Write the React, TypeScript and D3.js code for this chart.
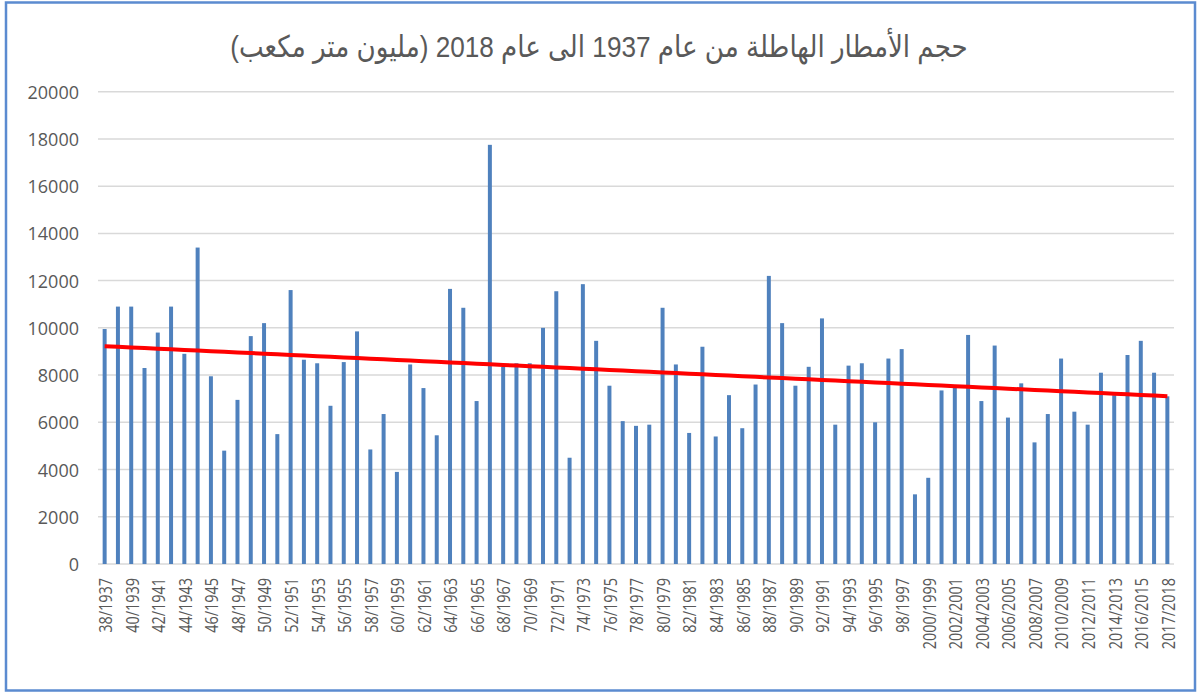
import React, { useLayoutEffect, useRef, useState } from "react";
import * as d3 from "d3";

// hydrological years, one bar each
const years = [
  "38/1937", "39/1938", "40/1939", "41/1940", "42/1941", "43/1942", "44/1943", "45/1944", "46/1945", "47/1946",
  "48/1947", "49/1948", "50/1949", "51/1950", "52/1951", "53/1952", "54/1953", "55/1954", "56/1955", "57/1956",
  "58/1957", "59/1958", "60/1959", "61/1960", "62/1961", "63/1962", "64/1963", "65/1964", "66/1965", "67/1966",
  "68/1967", "69/1968", "70/1969", "71/1970", "72/1971", "73/1972", "74/1973", "75/1974", "76/1975", "77/1976",
  "78/1977", "79/1978", "80/1979", "81/1980", "82/1981", "83/1982", "84/1983", "85/1984", "86/1985", "87/1986",
  "88/1987", "89/1988", "90/1989", "91/1990", "92/1991", "93/1992", "94/1993", "95/1994", "96/1995", "97/1996",
  "98/1997", "99/1998", "2000/1999", "2001/2000", "2002/2001", "2003/2002", "2004/2003", "2005/2004", "2006/2005", "2007/2006",
  "2008/2007", "2009/2008", "2010/2009", "2011/2010", "2012/2011", "2013/2012", "2014/2013", "2015/2014", "2016/2015", "2017/2016",
  "2017/2018",
];

// rainfall volume, million m3
const rainfall = [
  9950, 10900, 10900, 8300, 9800, 10900, 8900, 13400, 7950, 4800,
  6950, 9650, 10200, 5500, 11600, 8650, 8500, 6700, 8550, 9850,
  4850, 6350, 3900, 8450, 7450, 5450, 11650, 10850, 6900, 17750,
  8350, 8500, 8500, 10000, 11550, 4500, 11850, 9450, 7550, 6050,
  5850, 5900, 10850, 8450, 5550, 9200, 5400, 7150, 5750, 7600,
  12200, 10200, 7550, 8350, 10400, 5900, 8400, 8500, 6000, 8700,
  9100, 2950, 3650, 7350, 7500, 9700, 6900, 9250, 6200, 7650,
  5150, 6350, 8700, 6450, 5900, 8100, 7150, 8850, 9450, 8100,
  7100,
];

const yTicks = [0, 2000, 4000, 6000, 8000, 10000, 12000, 14000, 16000, 18000, 20000];

const title = "حجم الأمطار الهاطلة من عام 1937 الى عام 2018 (مليون متر مكعب)";

const W = 1197;
const H = 693;

export default function App() {
  const titleRef = useRef<SVGTextElement>(null);
  const [titleScale, setTitleScale] = useState(1);

  useLayoutEffect(() => {
    if (titleRef.current) {
      const len = titleRef.current.getComputedTextLength();
      if (len > 0) setTitleScale(738 / len);
    }
  }, []);

  const x = d3.scaleBand<number>()
    .domain(d3.range(years.length))
    .range([98, 1174])
    .paddingInner(0.7)
    .paddingOuter(0.35);

  const y = d3.scaleLinear().domain([0, 20000]).range([564, 91.7]);

  const cx = (i: number) => (x(i) as number) + x.bandwidth() / 2;

  // linear trend, least squares like excel does
  const idx = d3.range(rainfall.length);
  const mx = d3.mean(idx) as number;
  const my = d3.mean(rainfall) as number;
  const slope = d3.sum(idx, i => (i - mx) * (rainfall[i] - my)) / d3.sum(idx, i => (i - mx) ** 2);
  const icpt = my - slope * mx;
  const trend = d3.line<number>()
    .x(i => cx(i))
    .y(i => y(icpt + slope * i));

  const labelFont = "'Open Sans', 'DejaVu Sans', sans-serif";

  return (
    <div style={{ position: "absolute", left: 0, top: 0 }}>
      <svg width={W} height={H} style={{ display: "block", background: "#fff" }}>
        <rect x={6} y={2.5} width={1189} height={688} fill="#fff" stroke="#5b8bd0" strokeWidth={2.5} />

        <text
          ref={titleRef}
          transform={`translate(599, 57) scale(${titleScale}, 1)`}
          textAnchor="middle"
          fontFamily="'Liberation Sans', Arial, 'DejaVu Sans', sans-serif"
          fontSize={30}
          fill="#595959"
        >
          {title}
        </text>

        {yTicks.map(t => (
          <g key={t}>
            <line x1={98} x2={1174} y1={y(t)} y2={y(t)} stroke="#d9d9d9" strokeWidth={1.5} />
            <text
              x={79}
              y={y(t)}
              textAnchor="end"
              dominantBaseline="central"
              fontFamily={labelFont}
              fontSize={18}
              fill="#595959"
            >
              {t}
            </text>
          </g>
        ))}

        {rainfall.map((v, i) => (
          <rect
            key={i}
            x={x(i)}
            y={y(v)}
            width={x.bandwidth()}
            height={y(0) - y(v)}
            fill="#4f81bd"
          />
        ))}

        <path d={trend(idx) || ""} fill="none" stroke="#ff0000" strokeWidth={4} />

        {years.map((lab, i) =>
          i % 2 === 0 ? (
            <text
              key={lab}
              transform={`translate(${cx(i)}, 578) rotate(-90) scale(0.76, 1)`}
              textAnchor="end"
              dominantBaseline="central"
              fontFamily={labelFont}
              fontSize={19}
              fill="#595959"
            >
              {lab}
            </text>
          ) : null
        )}
      </svg>
    </div>
  );
}
